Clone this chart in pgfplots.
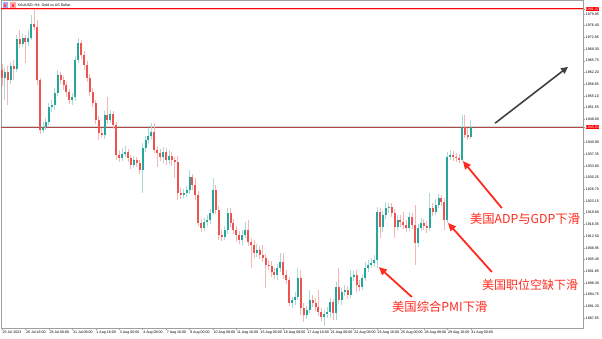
\documentclass[border=0pt]{standalone}
\usepackage{fontspec}
\setmainfont{Liberation Sans}
\newfontfamily\cjk{Noto Sans CJK SC}
\usepackage{pgfplots}
\pgfplotsset{compat=1.18}
\usepackage{pgfplotstable}
\usetikzlibrary{arrows.meta}
\definecolor{upb}{HTML}{26A69A}
\definecolor{dnb}{HTML}{EF5350}
\definecolor{upw}{HTML}{A8DCD6}
\definecolor{dnw}{HTML}{F7B5B4}
\definecolor{annred}{HTML}{FF2A1F}
\definecolor{bidline}{HTML}{B04848}
\pgfplotstableread{
t o h l c
0 1962.9 1964.8 1958.1 1960.5
1 1960.5 1963.5 1953.8 1962.3
2 1962.3 1964.2 1952.3 1959.9
3 1959.9 1965.4 1958.7 1964.2
4 1964.2 1966.0 1959.9 1963.2
5 1963.2 1973.6 1962.3 1972.4
6 1972.4 1975.1 1969.6 1970.8
7 1970.8 1973.9 1969.9 1972.7
8 1972.7 1973.6 1965.1 1971.4
9 1971.4 1975.1 1970.2 1972.7
10 1972.7 1979.6 1972.1 1976.9
11 1976.9 1981.5 1975.1 1976.0
12 1976.0 1978.1 1958.4 1959.9
13 1959.9 1960.5 1943.5 1944.7
14 1944.7 1947.2 1943.8 1945.6
15 1945.6 1948.4 1944.7 1947.2
16 1947.2 1952.9 1946.2 1951.7
17 1951.7 1953.8 1950.2 1952.3
18 1952.3 1957.5 1950.8 1956.0
19 1956.0 1962.9 1955.0 1961.4
20 1961.4 1962.3 1958.7 1959.9
21 1959.9 1961.1 1956.9 1958.4
22 1958.4 1959.3 1954.7 1956.3
23 1956.3 1957.2 1952.6 1953.8
24 1953.8 1956.0 1952.3 1954.7
25 1954.7 1967.2 1953.5 1966.0
26 1966.0 1972.7 1965.1 1971.1
27 1971.1 1972.1 1966.3 1967.5
28 1967.5 1968.7 1962.9 1964.5
29 1964.5 1965.7 1959.3 1960.5
30 1960.5 1961.7 1955.0 1956.3
31 1956.3 1957.5 1951.7 1952.9
32 1952.9 1953.8 1946.5 1947.8
33 1947.8 1949.0 1941.7 1943.8
34 1943.8 1945.3 1942.3 1943.2
35 1943.2 1950.5 1942.0 1949.3
36 1949.3 1954.7 1946.5 1947.8
37 1947.8 1950.8 1946.8 1949.6
38 1949.6 1950.5 1945.0 1946.2
39 1946.2 1947.2 1935.6 1937.1
40 1937.1 1938.6 1935.0 1936.2
41 1936.2 1939.3 1935.3 1937.4
42 1937.4 1939.9 1936.5 1938.0
43 1938.0 1939.0 1935.0 1936.2
44 1936.2 1937.1 1932.9 1934.1
45 1934.1 1936.8 1933.2 1935.6
46 1935.6 1936.5 1933.5 1934.7
47 1934.7 1935.6 1931.4 1932.6
48 1932.6 1940.8 1925.6 1939.3
49 1939.3 1942.9 1938.0 1941.7
50 1941.7 1945.3 1940.5 1942.9
51 1942.9 1946.8 1942.0 1944.1
52 1944.1 1946.8 1937.7 1938.6
53 1938.6 1939.9 1933.5 1937.7
54 1937.7 1939.0 1935.3 1936.5
55 1936.5 1939.6 1934.7 1938.0
56 1938.0 1939.3 1934.1 1935.6
57 1935.6 1938.6 1934.4 1936.8
58 1936.8 1938.0 1933.8 1935.6
59 1935.6 1936.5 1930.1 1935.0
60 1935.0 1936.8 1923.5 1925.6
61 1925.6 1927.1 1923.8 1925.0
62 1925.0 1926.8 1924.1 1925.6
63 1925.6 1927.7 1924.4 1926.5
64 1926.5 1932.6 1925.3 1930.5
65 1930.5 1931.4 1926.5 1928.0
66 1928.0 1930.1 1923.5 1925.0
67 1925.0 1926.2 1915.6 1916.5
68 1916.5 1917.7 1913.7 1915.0
69 1915.0 1918.0 1914.1 1916.8
70 1916.8 1918.9 1915.6 1917.4
71 1917.4 1920.7 1916.2 1919.5
72 1919.5 1930.1 1918.9 1926.5
73 1926.5 1928.0 1919.2 1920.4
74 1920.4 1921.6 1911.3 1912.8
75 1912.8 1914.4 1911.0 1912.2
76 1912.2 1915.6 1911.3 1914.4
77 1914.4 1921.0 1913.1 1919.5
78 1919.5 1921.0 1915.3 1916.5
79 1916.5 1917.7 1913.1 1914.4
80 1914.4 1915.6 1910.7 1912.8
81 1912.8 1914.0 1910.1 1911.3
82 1911.3 1914.4 1909.8 1912.8
83 1912.8 1916.8 1911.9 1914.4
84 1914.4 1917.4 1909.5 1910.7
85 1910.7 1911.9 1902.8 1909.8
86 1909.8 1911.3 1905.8 1907.4
87 1907.4 1910.1 1906.1 1908.3
88 1908.3 1909.5 1905.5 1906.8
89 1906.8 1909.8 1904.6 1905.8
90 1905.8 1907.1 1896.7 1903.7
91 1903.7 1905.2 1902.2 1903.4
92 1903.4 1904.9 1900.1 1901.6
93 1901.6 1902.8 1899.5 1900.7
94 1900.7 1904.0 1899.2 1902.8
95 1902.8 1907.4 1901.6 1904.6
96 1904.6 1907.4 1899.5 1900.7
97 1900.7 1902.2 1898.0 1899.2
98 1899.2 1900.1 1891.3 1892.2
99 1892.2 1894.0 1890.7 1893.1
100 1893.1 1895.5 1891.6 1894.0
101 1894.0 1902.8 1893.1 1899.8
102 1899.8 1902.2 1888.5 1890.7
103 1890.7 1892.2 1886.4 1888.5
104 1888.5 1891.3 1887.3 1890.1
105 1890.1 1896.1 1889.1 1893.1
106 1893.1 1894.6 1891.0 1892.2
107 1892.2 1893.7 1889.7 1891.0
108 1891.0 1896.1 1888.2 1889.5
109 1889.5 1890.7 1886.7 1887.9
110 1887.9 1890.1 1885.2 1888.8
111 1888.8 1891.0 1887.6 1889.5
112 1889.5 1893.7 1887.6 1892.5
113 1892.5 1893.4 1887.0 1889.1
114 1889.1 1898.6 1887.0 1897.0
115 1897.0 1902.8 1891.9 1893.1
116 1893.1 1896.7 1891.6 1895.5
117 1895.5 1897.7 1894.3 1896.1
118 1896.1 1897.3 1893.4 1894.6
119 1894.6 1902.2 1893.7 1900.1
120 1900.1 1901.9 1898.9 1900.7
121 1900.7 1902.2 1895.5 1897.7
122 1897.7 1899.2 1895.8 1897.0
123 1897.0 1901.0 1896.1 1899.8
124 1899.8 1904.6 1898.9 1902.8
125 1902.8 1905.2 1901.6 1903.7
126 1903.7 1905.8 1902.8 1904.3
127 1904.3 1906.8 1903.1 1905.2
128 1905.2 1921.3 1902.8 1919.8
129 1919.8 1921.0 1911.9 1915.3
130 1915.3 1920.1 1913.7 1918.9
131 1918.9 1922.9 1917.7 1921.0
132 1921.0 1922.6 1919.5 1921.3
133 1921.3 1922.6 1918.3 1919.5
134 1919.5 1920.7 1911.9 1915.3
135 1915.3 1918.9 1914.4 1917.4
136 1917.4 1918.9 1915.3 1916.8
137 1916.8 1919.8 1914.7 1915.9
138 1915.9 1917.4 1913.7 1915.0
139 1915.0 1919.8 1914.1 1918.3
140 1918.3 1919.5 1914.7 1915.9
141 1915.9 1921.9 1903.7 1910.4
142 1910.4 1916.2 1909.2 1915.0
143 1915.0 1918.0 1914.1 1916.5
144 1916.5 1917.7 1914.4 1915.6
145 1915.6 1917.1 1913.4 1915.0
146 1915.0 1925.6 1914.1 1921.0
147 1921.0 1922.6 1918.6 1919.8
148 1919.8 1923.8 1918.9 1921.9
149 1921.9 1925.3 1921.0 1924.1
150 1924.1 1925.0 1921.6 1922.9
151 1922.9 1924.1 1914.4 1917.4
152 1917.4 1938.0 1916.5 1936.5
153 1936.5 1938.6 1935.6 1937.1
154 1937.1 1938.3 1935.3 1936.5
155 1936.5 1937.7 1935.0 1936.2
156 1936.2 1937.4 1934.7 1935.6
157 1935.6 1949.3 1935.0 1945.6
158 1945.6 1949.3 1942.3 1943.2
159 1943.2 1945.3 1941.7 1942.6
160 1942.6 1947.8 1942.0 1945.6
}\candles
\pgfplotsset{candle/.style={only marks, mark=*, mark size=0pt,
  mark options={draw opacity=0, fill opacity=0}, forget plot}}
\begin{document}
\begin{tikzpicture}
\useasboundingbox (0,0) rectangle (602pt,338pt);
\begin{axis}[at={(1pt,10pt)}, anchor=south west, scale only axis,
  width=582pt, height=328pt,
  xmin=-0.34, xmax=198.3, ymin=1884.6, ymax=1984.2,
  axis line style={draw=gray!75, line width=0.5pt},
  tick align=outside, major tick length=2pt,
  tick style={gray!75, line width=0.4pt},
  xtick pos=bottom, ytick pos=right, yticklabel pos=right,
  xtick={0,8,...,160},
  xticklabels={25 Jul 2023,26 Jul 16:00,28 Jul 00:00,31 Jul 08:00,1 Aug 16:00,3 Aug 00:00,4 Aug 08:00,7 Aug 16:00,9 Aug 00:00,10 Aug 08:00,11 Aug 16:00,15 Aug 00:00,16 Aug 08:00,17 Aug 16:00,21 Aug 00:00,22 Aug 08:00,23 Aug 16:00,25 Aug 00:00,28 Aug 08:00,29 Aug 16:00,31 Aug 00:00},
  xticklabel style={anchor=north west, font=\fontsize{3.6}{4}\selectfont, inner sep=0.5pt, yshift=-0.3pt},
  ytick={1887.65,1891.20,1894.75,1898.30,1901.85,1905.40,1908.95,1912.50,1916.05,1919.60,1923.15,1926.70,1930.25,1933.80,1937.35,1940.90,1948.00,1951.55,1955.10,1958.65,1962.20,1965.75,1969.30,1972.85,1976.40,1979.95},
  yticklabels={1887.65,1891.20,1894.75,1898.30,1901.85,1905.40,1908.95,1912.50,1916.05,1919.60,1923.15,1926.70,1930.25,1933.80,1937.35,1940.90,1948.00,1951.55,1955.10,1958.65,1962.20,1965.75,1969.30,1972.85,1976.40,1979.95},
  yticklabel style={anchor=west, font=\fontsize{3.6}{4}\selectfont, inner sep=0.4pt, xshift=0.3pt},
  extra y ticks={1945.6,1981.5},
  extra y tick labels={1945.63,1981.47},
  extra y tick style={yticklabel style={fill=red, text=white}},
]
% reference lines
\addplot[red!60, line width=2.6pt, opacity=0.35, forget plot] coordinates {(-1,1981.5) (200,1981.5)};
\addplot[red, line width=0.9pt, forget plot] coordinates {(-1,1981.5) (200,1981.5)};
\addplot[gray!60, line width=1.6pt, opacity=0.5, forget plot] coordinates {(-1,1945.6) (200,1945.6)};
\addplot[bidline, line width=0.8pt, forget plot] coordinates {(-1,1945.6) (200,1945.6)};
% wicks
\addplot[candle,
  restrict expr to domain={\thisrow{c}-\thisrow{o}}{0:1000},
  error bars/.cd, y dir=minus, y explicit, error mark=none,
  error bar style={line width=0.9pt, draw=upw}]
  table[x=t, y=h, y error minus expr={\thisrow{h}-\thisrow{l}}]{\candles};
\addplot[candle,
  restrict expr to domain={\thisrow{o}-\thisrow{c}}{0.0001:1000},
  error bars/.cd, y dir=minus, y explicit, error mark=none,
  error bar style={line width=0.9pt, draw=dnw}]
  table[x=t, y=h, y error minus expr={\thisrow{h}-\thisrow{l}}]{\candles};
% bodies
\addplot[candle,
  restrict expr to domain={\thisrow{c}-\thisrow{o}}{0:1000},
  error bars/.cd, y dir=minus, y explicit, error mark=none,
  error bar style={line width=2pt, draw=upb}]
  table[x=t, y=c, y error minus expr={max(\thisrow{c}-\thisrow{o},0.3)}]{\candles};
\addplot[candle,
  restrict expr to domain={\thisrow{o}-\thisrow{c}}{0.0001:1000},
  error bars/.cd, y dir=minus, y explicit, error mark=none,
  error bar style={line width=2pt, draw=dnb}]
  table[x=t, y=o, y error minus expr={max(\thisrow{o}-\thisrow{c},0.3)}]{\candles};
% annotations
\draw[black!75, line width=1.6pt, -{Triangle[length=7pt,width=6.5pt]}] (axis cs:168.3,1946.8) -- (axis cs:193.2,1963.9);
\draw[annred, line width=1.8pt, -{Triangle[length=8pt,width=7pt]}] (axis cs:170.6,1921.0) -- (axis cs:157.3,1935.3);
\draw[annred, line width=1.8pt, -{Triangle[length=8pt,width=7pt]}] (axis cs:167.2,1901.6) -- (axis cs:152.2,1916.5);
\draw[annred, line width=1.8pt, -{Triangle[length=8pt,width=7pt]}] (axis cs:139.9,1894.0) -- (axis cs:128.6,1903.1);
\node[anchor=west, text=annred, font=\cjk\fontsize{12.3}{12}\selectfont, inner sep=0pt] at (axis cs:159.7,1917.7) {美国ADP与GDP下滑};
\node[anchor=west, text=annred, font=\cjk\fontsize{12}{12}\selectfont, inner sep=0pt] at (axis cs:163.8,1897.6) {美国职位空缺下滑};
\node[anchor=west, text=annred, font=\cjk\fontsize{12.3}{12}\selectfont, inner sep=0pt] at (axis cs:133.1,1891.0) {美国综合PMI下滑};
\end{axis}
% chart title with icons
\fill[blue!35] (2.5pt,330pt) rectangle (7.5pt,335.5pt);
\fill[red!70] (4pt,331pt) rectangle (6pt,334pt);
\fill[red!35] (10pt,330pt) rectangle (15.5pt,335.5pt);
\fill[red!75] (11.5pt,331pt) rectangle (14pt,334pt);
\node[anchor=west, font=\fontsize{3.6}{4}\selectfont, inner sep=0pt] at (17.5pt,332.5pt) {XAUUSD, H4: Gold vs US Dollar};
\end{tikzpicture}
\end{document}
